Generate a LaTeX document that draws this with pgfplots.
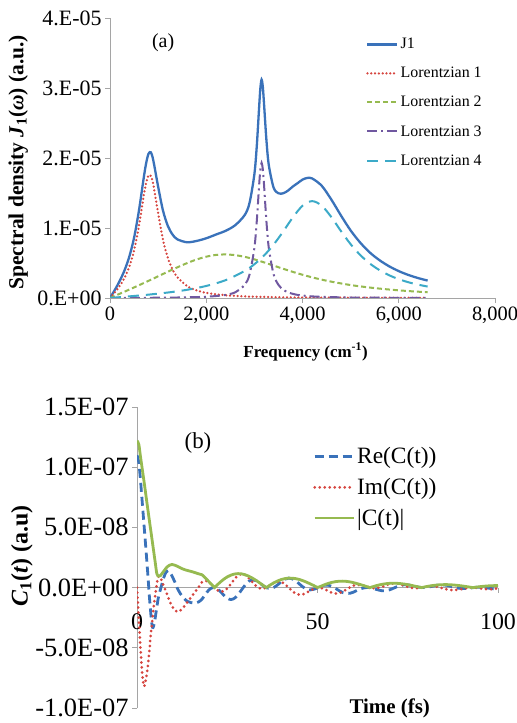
\documentclass[border=0pt]{standalone}
\usepackage{fontspec}
\setmainfont{Liberation Serif}
\usepackage{pgfplots}
\usepackage{pgfplotstable}
\pgfplotsset{compat=1.18}
\definecolor{jblue}{RGB}{58,114,186}
\definecolor{lred}{RGB}{214,68,62}
\definecolor{lgreen}{RGB}{150,186,80}
\definecolor{lpurple}{RGB}{112,88,160}
\definecolor{lcyan}{RGB}{60,170,200}
\definecolor{axgray}{RGB}{165,165,165}

\pgfplotstableread{
x y
0 0
100 0.115e-5
200 0.242e-5
300 0.392e-5
400 0.588e-5
500 0.860e-5
600 1.243e-5
700 1.713e-5
750 1.921e-5
800 2.06e-5
850 2.08e-5
900 1.965e-5
1000 1.591e-5
1100 1.252e-5
1200 1.033e-5
1300 0.906e-5
1400 0.838e-5
1600 0.796e-5
1800 0.815e-5
2000 0.853e-5
2200 0.906e-5
2400 0.959e-5
2600 1.039e-5
2800 1.186e-5
2900 1.360e-5
3000 1.767e-5
3050 2.17e-5
3100 2.74e-5
3125 3.0e-5
3150 3.12e-5
3175 3.02e-5
3200 2.78e-5
3250 2.26e-5
3300 1.898e-5
3400 1.576e-5
3500 1.496e-5
3600 1.496e-5
3700 1.535e-5
3800 1.593e-5
3900 1.641e-5
4000 1.691e-5
4100 1.715e-5
4200 1.708e-5
4400 1.603e-5
4600 1.405e-5
4800 1.178e-5
5000 0.965e-5
5200 0.791e-5
5400 0.649e-5
5600 0.540e-5
5800 0.453e-5
6000 0.384e-5
6200 0.329e-5
6400 0.285e-5
6600 0.249e-5
}\Jone

\pgfplotstableread{
x y
0 0
100 0.079e-5
200 0.170e-5
300 0.285e-5
400 0.444e-5
500 0.679e-5
600 1.024e-5
700 1.456e-5
750 1.644e-5
800 1.751e-5
850 1.742e-5
900 1.620e-5
1000 1.214e-5
1100 0.836e-5
1200 0.575e-5
1300 0.406e-5
1400 0.296e-5
1600 0.171e-5
1800 0.109e-5
2000 0.073e-5
2400 0.039e-5
2800 0.023e-5
3200 0.015e-5
3600 0.010e-5
4000 0.007e-5
5000 0.004e-5
6000 0.002e-5
6600 0.002e-5
}\Lone

\pgfplotstableread{
x y
0 0
200 0.060e-5
400 0.120e-5
600 0.182e-5
800 0.245e-5
1000 0.310e-5
1200 0.375e-5
1400 0.438e-5
1600 0.498e-5
1800 0.550e-5
2000 0.590e-5
2200 0.615e-5
2400 0.622e-5
2600 0.612e-5
2800 0.588e-5
3000 0.552e-5
3200 0.509e-5
3400 0.463e-5
3600 0.417e-5
3800 0.373e-5
4000 0.332e-5
4200 0.295e-5
4400 0.262e-5
4600 0.233e-5
5000 0.185e-5
5400 0.149e-5
5800 0.121e-5
6200 0.099e-5
6600 0.082e-5
}\Ltwo

\pgfplotstableread{
x y
0 0
1000 0.004e-5
1400 0.007e-5
1800 0.013e-5
2000 0.018e-5
2200 0.028e-5
2400 0.044e-5
2600 0.081e-5
2800 0.188e-5
2900 0.337e-5
3000 0.714e-5
3050 1.099e-5
3100 1.623e-5
3125 1.843e-5
3150 1.93e-5
3175 1.843e-5
3200 1.623e-5
3250 1.099e-5
3300 0.714e-5
3400 0.337e-5
3500 0.188e-5
3600 0.118e-5
3700 0.081e-5
3800 0.059e-5
3900 0.044e-5
4000 0.035e-5
4300 0.019e-5
5000 0.007e-5
6000 0.003e-5
6600 0.002e-5
}\Lthree

\pgfplotstableread{
x y
0 0
400 0.023e-5
800 0.048e-5
1200 0.078e-5
1600 0.117e-5
2000 0.172e-5
2400 0.254e-5
2800 0.387e-5
3000 0.482e-5
3200 0.606e-5
3400 0.763e-5
3600 0.951e-5
3800 1.152e-5
4000 1.317e-5
4200 1.384e-5
4400 1.319e-5
4600 1.155e-5
4800 0.955e-5
5000 0.769e-5
5200 0.614e-5
5400 0.492e-5
5600 0.398e-5
5800 0.325e-5
6000 0.269e-5
6200 0.225e-5
6400 0.191e-5
6600 0.163e-5
}\Lfour

\pgfplotstableread{
t y
0 11.0e-8
0.5 10.4e-8
1.0 8.8e-8
1.5 6.9e-8
2.0 5.0e-8
2.5 3.1e-8
3.0 1.1e-8
3.5 -1.0e-8
4.0 -2.7e-8
4.3 -3.3e-8
4.6 -3.2e-8
5.0 -2.6e-8
5.5 -1.6e-8
6.0 -0.7e-8
6.5 -0.15e-8
7.0 0.4e-8
7.5 0.9e-8
8.0 1.25e-8
8.6 1.4e-8
9.2 1.25e-8
9.8 0.9e-8
10.5 0.45e-8
11.1 0.0
12 -0.5e-8
13 -0.9e-8
14 -1.15e-8
15 -1.25e-8
16 -1.3e-8
17 -1.2e-8
18 -0.962e-8
19 -0.530e-8
20 -0.172e-8
21 0.0
22 -0.056e-8
23 -0.296e-8
24 -0.615e-8
25 -0.884e-8
26 -0.991e-8
27 -0.885e-8
28 -0.585e-8
29 -0.176e-8
30 0.231e-8
31 0.526e-8
32 0.644e-8
33 0.578e-8
34 0.383e-8
35 0.150e-8
36 -0.024e-8
37 -0.072e-8
38 0.028e-8
39 0.240e-8
40 0.491e-8
41 0.696e-8
42 0.786e-8
43 0.731e-8
44 0.549e-8
45 0.295e-8
46 0.048e-8
47 -0.128e-8
48 -0.190e-8
49 -0.142e-8
50 -0.020e-8
51 0.116e-8
52 0.203e-8
53 0.201e-8
54 0.101e-8
55 -0.069e-8
56 -0.259e-8
57 -0.415e-8
58 -0.491e-8
59 -0.472e-8
60 -0.372e-8
62 -0.091e-8
64 0.016e-8
66 -0.125e-8
68 -0.268e-8
70 -0.182e-8
72 0.074e-8
74 0.241e-8
76 0.184e-8
78 0.034e-8
80 0.004e-8
82 0.127e-8
84 0.236e-8
86 0.182e-8
88 0.019e-8
90 -0.085e-8
92 -0.050e-8
94 0.032e-8
96 0.027e-8
98 -0.075e-8
100 -0.159e-8
}\ReC

\pgfplotstableread{
t y
0 0
0.5 -2.6e-8
1.0 -5.2e-8
1.5 -7.3e-8
1.9 -8.2e-8
2.3 -7.9e-8
2.8 -7.0e-8
3.2 -6.0e-8
3.7 -4.3e-8
4.2 -2.8e-8
4.7 -1.4e-8
5.2 -0.3e-8
5.6 0.5e-8
6.0 0.94e-8
6.5 0.8e-8
7.0 0.45e-8
8.0 -0.3e-8
9.0 -1.1e-8
10.0 -1.7e-8
11.1 -2.0e-8
12 -1.9e-8
13 -1.6e-8
14 -1.2e-8
15 -0.8e-8
16 -0.4e-8
17 0.0
18 0.459e-8
19 0.568e-8
20 0.433e-8
21 0.152e-8
22 -0.144e-8
23 -0.324e-8
24 -0.300e-8
25 -0.071e-8
26 0.300e-8
27 0.699e-8
28 1.004e-8
29 1.126e-8
30 1.038e-8
31 0.782e-8
32 0.445e-8
33 0.136e-8
34 -0.055e-8
35 -0.085e-8
36 0.030e-8
37 0.226e-8
38 0.413e-8
39 0.507e-8
40 0.462e-8
41 0.279e-8
42 0.007e-8
43 -0.280e-8
44 -0.500e-8
45 -0.601e-8
46 -0.567e-8
47 -0.428e-8
48 -0.243e-8
49 -0.084e-8
50 -0.003e-8
51 -0.025e-8
52 -0.135e-8
53 -0.288e-8
54 -0.424e-8
55 -0.491e-8
56 -0.461e-8
57 -0.338e-8
58 -0.158e-8
59 0.030e-8
60 0.174e-8
62 0.224e-8
64 0.042e-8
66 -0.062e-8
68 0.079e-8
70 0.304e-8
72 0.349e-8
74 0.169e-8
76 -0.025e-8
78 -0.041e-8
80 0.076e-8
82 0.122e-8
84 0.004e-8
86 -0.164e-8
88 -0.208e-8
90 -0.110e-8
92 -0.008e-8
94 -0.021e-8
96 -0.107e-8
98 -0.136e-8
100 -0.053e-8
}\ImC

\pgfplotstableread{
t y
0 12.2e-8
0.5 11.9e-8
1.0 10.8e-8
2.0 8.7e-8
3.0 6.5e-8
4.0 4.35e-8
5.0 2.2e-8
5.5 1.15e-8
6.0 0.95e-8
6.5 1.0e-8
7.0 1.2e-8
7.5 1.4e-8
8.0 1.6e-8
8.5 1.75e-8
9.0 1.86e-8
9.7 1.92e-8
10.5 1.86e-8
11.5 1.72e-8
12.5 1.57e-8
13.5 1.46e-8
14.5 1.38e-8
15.5 1.30e-8
16.2 1.23e-8
17 1.15e-8
18 1.066e-8
19 0.777e-8
20 0.466e-8
21 0.152e-8
21.5 0.004e-8
22 0.155e-8
23 0.438e-8
24 0.684e-8
25 0.886e-8
26 1.035e-8
27 1.128e-8
28 1.162e-8
29 1.140e-8
30 1.064e-8
31 0.942e-8
32 0.782e-8
33 0.594e-8
34 0.387e-8
35 0.173e-8
35.8 0.004e-8
36 0.039e-8
37 0.237e-8
38 0.414e-8
39 0.561e-8
40 0.674e-8
41 0.750e-8
42 0.786e-8
43 0.783e-8
44 0.743e-8
45 0.670e-8
46 0.569e-8
47 0.447e-8
48 0.309e-8
49 0.165e-8
50 0.020e-8
51 0.118e-8
52 0.244e-8
53 0.351e-8
54 0.436e-8
55 0.495e-8
56 0.529e-8
57 0.536e-8
58 0.516e-8
59 0.473e-8
60 0.411e-8
62 0.242e-8
64 0.045e-8
64.5 0.0
66 0.139e-8
68 0.280e-8
70 0.354e-8
72 0.357e-8
74 0.294e-8
76 0.185e-8
78 0.053e-8
78.8 0.0
80 0.076e-8
82 0.176e-8
84 0.236e-8
86 0.245e-8
88 0.209e-8
90 0.139e-8
92 0.050e-8
93.1 0.0
94 0.038e-8
96 0.111e-8
98 0.155e-8
100 0.168e-8
}\AbsC

\begin{document}
\begin{tikzpicture}
\path[use as bounding box,fill=white] (0bp,0bp) rectangle (517bp,723bp);

% ---------- panel (a) ----------
\begin{axis}[
  at={(110bp,425bp)}, anchor=south west,
  scale only axis, width=385bp, height=280bp,
  xmin=0, xmax=8000, ymin=0, ymax=4e-5,
  axis x line*=bottom, axis y line*=left,
  axis line style={-, draw=axgray, line width=0.8bp},
  tick align=outside, major tick length=5bp,
  tick style={draw=axgray, line width=0.8bp},
  xtick={0,2000,4000,6000,8000},
  xticklabels={0,{2,000},{4,000},{6,000},{8,000}},
  ytick={0,1e-5,2e-5,3e-5,4e-5},
  yticklabels={0.E+00,1.E-05,2.E-05,3.E-05,4.E-05},
  scaled x ticks=false, scaled y ticks=false,
  yticklabel style={font=\fontsize{22}{22}\selectfont},
  xticklabel style={font=\fontsize{20.5}{20.5}\selectfont},
  xlabel={\textbf{Frequency (cm\textsuperscript{-1})}},
  xlabel style={at={(axis description cs:0.508,-0.193)}, anchor=center, font=\fontsize{17}{17}\selectfont},
  ylabel={\textbf{Spectral density \textit{J}\textsubscript{1}(\textit{ω}) (a.u.)}},
  ylabel style={at={(axis description cs:-0.238,0.485)}, anchor=center, font=\fontsize{21.5}{21.5}\selectfont},
  legend style={at={(axis description cs:0.665,0.935)}, anchor=north west, draw=none, fill=none,
     font=\fontsize{16}{16}\selectfont, row sep=13bp, inner sep=0pt},
  legend cell align=left,
  legend image code/.code={\draw[#1] (0bp,0bp) -- (30bp,0bp);},
]
\addplot[jblue, line width=2.3bp, smooth] table[x=x,y=y] {\Jone};
\addlegendentry{J1}
\addplot[lred, line width=2.5bp, line cap=round, dash pattern=on 0bp off 3.8bp, smooth] table[x=x,y=y] {\Lone};
\addlegendentry{Lorentzian 1}
\addplot[lgreen, line width=2bp, dash pattern=on 5bp off 3bp, smooth] table[x=x,y=y] {\Ltwo};
\addlegendentry{Lorentzian 2}
\addplot[lpurple, line width=2bp, dash pattern=on 10bp off 4bp on 2bp off 4bp, smooth] table[x=x,y=y] {\Lthree};
\addlegendentry{Lorentzian 3}
\addplot[lcyan, line width=2bp, dash pattern=on 11bp off 7bp, smooth] table[x=x,y=y] {\Lfour};
\addlegendentry{Lorentzian 4}
\node[font=\fontsize{20}{20}\selectfont] at (axis description cs:0.138,0.911) {(a)};
\end{axis}

% ---------- panel (b) ----------
\begin{axis}[
  at={(137bp,15bp)}, anchor=south west,
  scale only axis, width=361bp, height=301bp,
  xmin=0, xmax=100, ymin=-1e-7, ymax=1.5e-7,
  axis x line=middle, axis y line=left,
  hide obscured x ticks=false,
  axis line style={-, draw=axgray, line width=0.8bp},
  every inner x axis line/.append style={-},
  tick align=outside, major tick length=5bp,
  tick style={draw=axgray, line width=0.8bp},
  xtick={0,50,100}, xticklabels={0,50,100},
  ytick={-1e-7,-5e-8,0,5e-8,1e-7,1.5e-7},
  yticklabels={-1.0E-07,-5.0E-08,0.0E+00,5.0E-08,1.0E-07,1.5E-07},
  scaled x ticks=false, scaled y ticks=false,
  yticklabel style={font=\fontsize{26.5}{26.5}\selectfont},
  xticklabel style={font=\fontsize{24}{24}\selectfont, anchor=north, yshift=-17bp},
  xlabel={\textbf{Time (fs)}},
  xlabel style={at={(axis description cs:0.70,0.0)}, anchor=center, font=\fontsize{21}{21}\selectfont},
  ylabel={\textbf{\textit{C}\textsubscript{1}(\textit{t}) (a.u)}},
  ylabel style={at={(axis description cs:-0.319,0.505)}, anchor=center, font=\fontsize{24}{24}\selectfont},
  legend style={at={(axis description cs:0.4875,0.872)}, anchor=north west, draw=none, fill=none,
     font=\fontsize{23.5}{23.5}\selectfont, row sep=9bp, inner sep=0pt},
  legend cell align=left,
  legend image code/.code={\draw[#1] (0bp,0bp) -- (39bp,0bp);},
]
\addplot[jblue, line width=2.8bp, dash pattern=on 9bp off 5bp, smooth] table[x=t,y=y] {\ReC};
\addlegendentry{Re(C(t))}
\addplot[lred, line width=3bp, line cap=round, dash pattern=on 0bp off 5bp, smooth] table[x=t,y=y] {\ImC};
\addlegendentry{Im(C(t))}
\addplot[lgreen, line width=2.8bp, smooth] table[x=t,y=y] {\AbsC};
\addlegendentry{|C(t)|}
\node[font=\fontsize{23}{23}\selectfont] at (axis description cs:0.169,0.880) {(b)};
\end{axis}
\end{tikzpicture}
\end{document}
